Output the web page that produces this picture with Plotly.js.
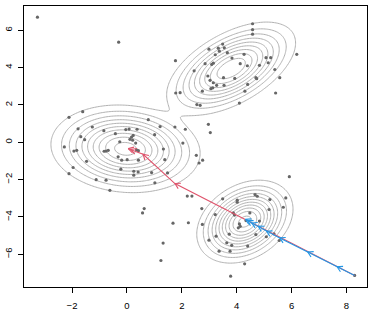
<!DOCTYPE html>
<html>
<head>
<meta charset="utf-8">
<script src="https://cdn.plot.ly/plotly-3.0.1.min.js"></script>
<style>html,body{margin:0;padding:0;background:#fff}#chart{width:374px;height:312px}</style>
</head>
<body>
<div id="chart"></div>
<script>
// ---- observed points ----
var ptsX = [-3.26,-0.30,1.77,1.78,1.94,-2.11,-1.61,0.78,-1.78,-1.26,-0.84,-0.42,-0.04,0.08,0.37,1.21,1.75,2.13,-1.68,-1.54,1.01,-0.26,0.23,0.17,0.11,0.21,0.32,2.04,-2.28,-1.93,-1.83,1.33,-0.83,-0.76,-0.68,0.35,0.42,-1.96,-1.47,-0.32,-0.19,0.01,0.42,1.38,2.53,2.76,2.63,-0.22,0.25,0.41,0.25,0.90,1.48,-2.11,-1.12,-0.76,1.02,-0.62,2.20,2.37,0.63,0.57,1.68,1.32,1.24,
  4.58,4.58,4.58,6.19,3.49,2.99,3.33,3.55,3.37,3.66,3.22,4.27,3.83,5.07,5.24,5.15,2.85,3.09,3.15,4.13,4.39,4.83,5.39,2.45,3.52,3.93,4.70,4.73,5.57,2.95,3.03,3.15,3.27,3.54,4.40,3.06,3.13,4.30,2.75,5.42,2.55,2.67,4.10,2.97,3.04,
  5.92,2.73,2.24,2.75,3.49,4.02,4.02,4.67,4.75,5.21,5.79,5.70,3.22,3.88,3.92,4.48,4.83,5.18,4.10,4.06,4.13,4.34,3.73,4.70,5.36,5.08,5.55,3.25,2.99,3.64,3.82,4.40,3.36,3.76,4.29,3.78,8.30];
var ptsY = [6.70,5.36,4.37,2.64,2.66,1.34,1.64,1.21,0.72,0.82,0.62,0.46,0.68,0.71,0.70,0.84,0.82,0.70,0.30,0.14,0.41,0.03,0.37,0.28,0.16,0.11,-0.04,-0.04,-0.25,-0.47,-0.43,-0.36,-0.48,-0.47,-0.43,-0.40,-0.45,-1.35,-1.02,-0.78,-0.96,-0.93,-0.96,-0.93,-0.70,-0.96,-1.11,-1.44,-1.55,-1.59,-1.76,-1.62,-1.64,-1.68,-2.00,-2.03,-2.17,-2.57,-2.88,-2.88,-3.55,-3.78,-4.33,-5.40,-6.33,
  6.35,6.03,5.79,4.71,5.26,4.99,5.04,5.06,4.88,4.80,4.69,4.71,4.51,4.53,4.53,4.26,4.21,4.17,4.24,4.21,4.10,4.12,3.90,3.83,3.46,3.42,3.46,3.41,3.46,3.55,3.32,3.19,3.05,3.05,3.10,2.87,2.92,2.74,2.74,2.64,2.02,1.98,2.10,0.96,0.52,
  -1.84,-3.55,-4.31,-4.40,-3.03,-3.10,-3.21,-2.80,-2.89,-3.07,-2.98,-3.48,-3.87,-3.78,-3.90,-3.78,-4.22,-3.60,-4.37,-4.58,-4.50,-4.19,-4.92,-4.94,-4.90,-5.06,-5.26,-5.03,-5.24,-5.38,-5.52,-5.56,-5.83,-5.83,-6.51,-7.17,-7.13];

// ---- fitted mixture (3 components) ----
var mixW   = [0.42, 0.30, 0.28];
var mixMx  = [-0.05, 3.80, 4.30];
var mixMy  = [-0.35, 3.95, -4.25];
var mixSx  = [0.95, 0.83, 0.60];
var mixSy  = [0.82, 0.88, 0.76];
var mixRho = [-0.10, 0.55, 0.30];
// contour levels of the density (quadratically spaced)
var levels = [0.00144, 0.00423, 0.00846, 0.01416, 0.02132, 0.02993, 0.04000, 0.05153, 0.06452, 0.07896, 0.09487];

// ---- descent paths ----
var redX  = [8.30, 1.75, 0.59, 0.15, 0.05];
var redY  = [-7.13, -2.21, -0.64, -0.38, -0.34];
var blueX = [8.30, 7.66, 6.59, 5.57, 5.09, 4.79, 4.55, 4.40, 4.32];
var blueY = [-7.13, -6.67, -5.87, -5.12, -4.76, -4.49, -4.32, -4.18, -4.12];

var xRange = [-3.75, 8.75], yRange = [-7.75, 7.30];
var W = 374, H = 312, mL = 24, mR = 7, mT = 6, mB = 25;

function dens(x, y) {
  var s = 0;
  for (var k = 0; k < mixW.length; k++) {
    var zx = (x - mixMx[k]) / mixSx[k], zy = (y - mixMy[k]) / mixSy[k], r = mixRho[k];
    var q = (zx*zx - 2*r*zx*zy + zy*zy) / (1 - r*r);
    s += mixW[k] * Math.exp(-q/2) / (2*Math.PI*mixSx[k]*mixSy[k]*Math.sqrt(1 - r*r));
  }
  return s;
}
var gx = [], gy = [], gz = [], N = 220;
for (var i = 0; i < N; i++) gx.push(xRange[0] + (xRange[1]-xRange[0])*i/(N-1));
for (var j = 0; j < N; j++) gy.push(yRange[0] + (yRange[1]-yRange[0])*j/(N-1));
for (var j2 = 0; j2 < N; j2++) { var row = []; for (var i2 = 0; i2 < N; i2++) row.push(dens(gx[i2], gy[j2])); gz.push(row); }

var kx = (W - mL - mR) / (xRange[1]-xRange[0]);
var ky = (H - mT - mB) / (yRange[1]-yRange[0]);
function pathWithHeads(xs, ys) {
  var ox = [], oy = [], hx = [], hy = [];
  for (var i = 0; i < xs.length; i++) { ox.push(xs[i]); oy.push(ys[i]); }
  for (var i = 1; i < xs.length; i++) {
    var dx = (xs[i]-xs[i-1])*kx, dy = (ys[i]-ys[i-1])*ky;
    var a = Math.atan2(dy, dx), L = 6, s = Math.PI/6;
    hx.push(xs[i] - L*Math.cos(a - s)/kx, xs[i], xs[i] - L*Math.cos(a + s)/kx, null);
    hy.push(ys[i] - L*Math.sin(a - s)/ky, ys[i], ys[i] - L*Math.sin(a + s)/ky, null);
  }
  return {lx: ox, ly: oy, hx: hx, hy: hy};
}
var red = pathWithHeads(redX, redY), blue = pathWithHeads(blueX, blueY);
var redC = '#DF536B', blueC = '#2297E6';

var traces = [];
levels.forEach(function (lv) {
  traces.push({type: 'contour', x: gx, y: gy, z: gz, autocontour: false,
    contours: {start: lv, end: lv, size: 1, coloring: 'none', showlabels: false},
    line: {color: '#b2b2b2', width: 1, smoothing: 1}, showscale: false, hoverinfo: 'skip'});
});
traces.push(
  {type: 'scatter', mode: 'markers', x: ptsX, y: ptsY, marker: {size: 3.2, color: '#666666'}},
  {type: 'scatter', mode: 'lines', x: red.lx, y: red.ly, line: {color: redC, width: 1.1}},
  {type: 'scatter', mode: 'lines', x: red.hx, y: red.hy, line: {color: redC, width: 1.1}},
  {type: 'scatter', mode: 'lines', x: blue.lx, y: blue.ly, line: {color: blueC, width: 1.1}},
  {type: 'scatter', mode: 'lines', x: blue.hx, y: blue.hy, line: {color: blueC, width: 1.1}}
);
var axisBase = {showgrid: false, zeroline: false, showline: true, mirror: true, linecolor: '#000', linewidth: 1,
  ticks: 'outside', ticklen: 5, tickcolor: '#000', tickwidth: 1,
  tickfont: {family: 'Liberation Sans, Arial, sans-serif', size: 9.5, color: '#000'}};
var layout = {
  width: W, height: H, margin: {l: mL, r: mR, t: mT, b: mB},
  paper_bgcolor: '#fff', plot_bgcolor: '#fff', showlegend: false,
  xaxis: Object.assign({}, axisBase, {range: xRange, tickmode: 'array', tickvals: [-2,0,2,4,6,8], ticklabelstandoff: 5}),
  yaxis: Object.assign({}, axisBase, {range: yRange, tickmode: 'array', tickvals: [-6,-4,-2,0,2,4,6], tickangle: -90, ticklabelstandoff: 2})
};
Plotly.newPlot('chart', traces, layout, {staticPlot: true});
</script>
</body>
</html>
